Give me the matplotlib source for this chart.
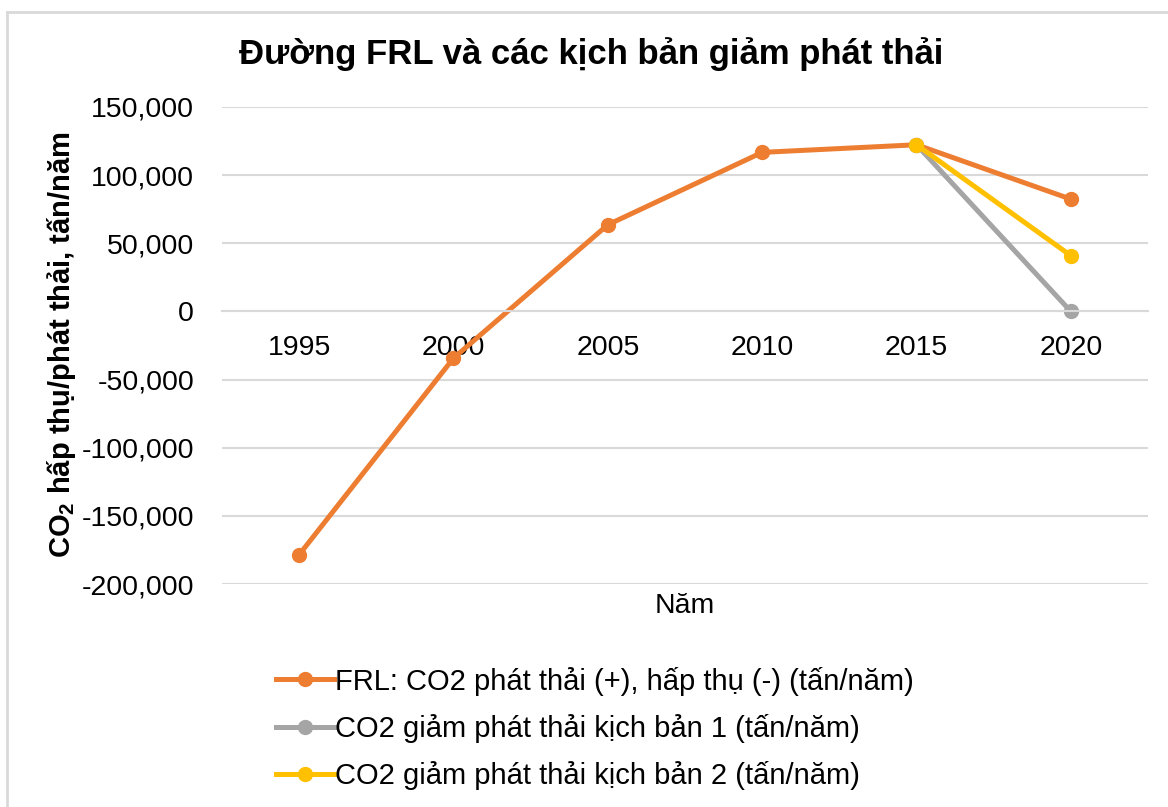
import numpy as np
import matplotlib
matplotlib.use("Agg")
import matplotlib.pyplot as plt
from matplotlib.lines import Line2D

plt.rcParams['font.family'] = ['Liberation Sans', 'DejaVu Sans']
plt.rcParams['mathtext.fontset'] = 'custom'
plt.rcParams['mathtext.rm'] = 'Liberation Sans'
plt.rcParams['mathtext.bf'] = 'Liberation Sans:bold'

years = ["1995", "2000", "2005", "2010", "2015", "2020"]
frl = [-178500, -34300, 63600, 116700, 122300, 82400]
scenario1 = [np.nan, np.nan, np.nan, np.nan, 122300, 0]
scenario2 = [np.nan, np.nan, np.nan, np.nan, 122300, 40900]
labels = ["FRL: CO2 phát thải (+), hấp thụ (-) (tấn/năm)",
          "CO2 giảm phát thải kịch bản 1 (tấn/năm)",
          "CO2 giảm phát thải kịch bản 2 (tấn/năm)"]
colors = ["#ED7D31", "#A5A5A5", "#FFC000"]
yticks = [-200000, -150000, -100000, -50000, 0, 50000, 100000, 150000]

W, H = 1168, 807
fig = plt.figure(figsize=(W / 100, H / 100), dpi=100)
ax = fig.add_axes([222 / W, 1 - 584 / H, (1148 - 222) / W, (584 - 107) / H])

x = np.arange(len(years))
for vals, c, lab in zip([frl, scenario1, scenario2], colors, labels):
    ax.plot(x, vals, color=c, lw=3.6, marker='o', markersize=10,
            solid_capstyle='round', label=lab)

ax.set_xlim(-0.5, len(years) - 0.5)
ax.set_ylim(-200000, 150000)
ax.set_yticks(yticks)
ax.set_yticklabels([f"{v:,}" for v in yticks])
ax.set_xticks(x)
ax.set_xticklabels(years)
ax.tick_params(axis='both', length=0, labelsize=20.5)
ax.tick_params(axis='y', pad=20)
ax.tick_params(axis='x', pad=17)
ax.grid(axis='y', color='#D9D9D9', lw=1.5)
ax.set_axisbelow(True)
for s in ['top', 'right', 'left']:
    ax.spines[s].set_visible(False)
ax.spines['bottom'].set_position(('data', 0))
ax.spines['bottom'].set_color('#D9D9D9')
ax.spines['bottom'].set_linewidth(1.5)

fig.text(591 / W, 1 - 54 / H, "Đường FRL và các kịch bản giảm phát thải",
         ha='center', va='center', fontsize=25, fontweight='bold')
fig.text(62 / W, 1 - 345 / H, r"CO$_{\mathbf{2}}$ hấp thụ/phát thải, tấn/năm",
         ha='center', va='center', rotation=90, fontsize=21, fontweight='bold')
fig.text(685 / W, 1 - 606 / H, "Năm", ha='center', va='center', fontsize=20.5)

handles = [Line2D([0], [0], color=c, lw=3.6, marker='o', markersize=10) for c in colors]
fig.legend(handles, labels, loc='upper left', bbox_to_anchor=(264 / W, 1 - 655 / H),
           frameon=False, fontsize=21, handlelength=2.0, handletextpad=0.05,
           labelspacing=0.62, borderaxespad=0)

# chart border
fig.add_artist(Line2D([6.5 / W, 1.2], [1 - 12 / H, 1 - 12 / H], color='#D9D9D9', lw=2))
fig.add_artist(Line2D([6.5 / W, 6.5 / W], [1 - 12 / H, -0.2], color='#D9D9D9', lw=2))

fig.savefig("out.png", dpi=100)
